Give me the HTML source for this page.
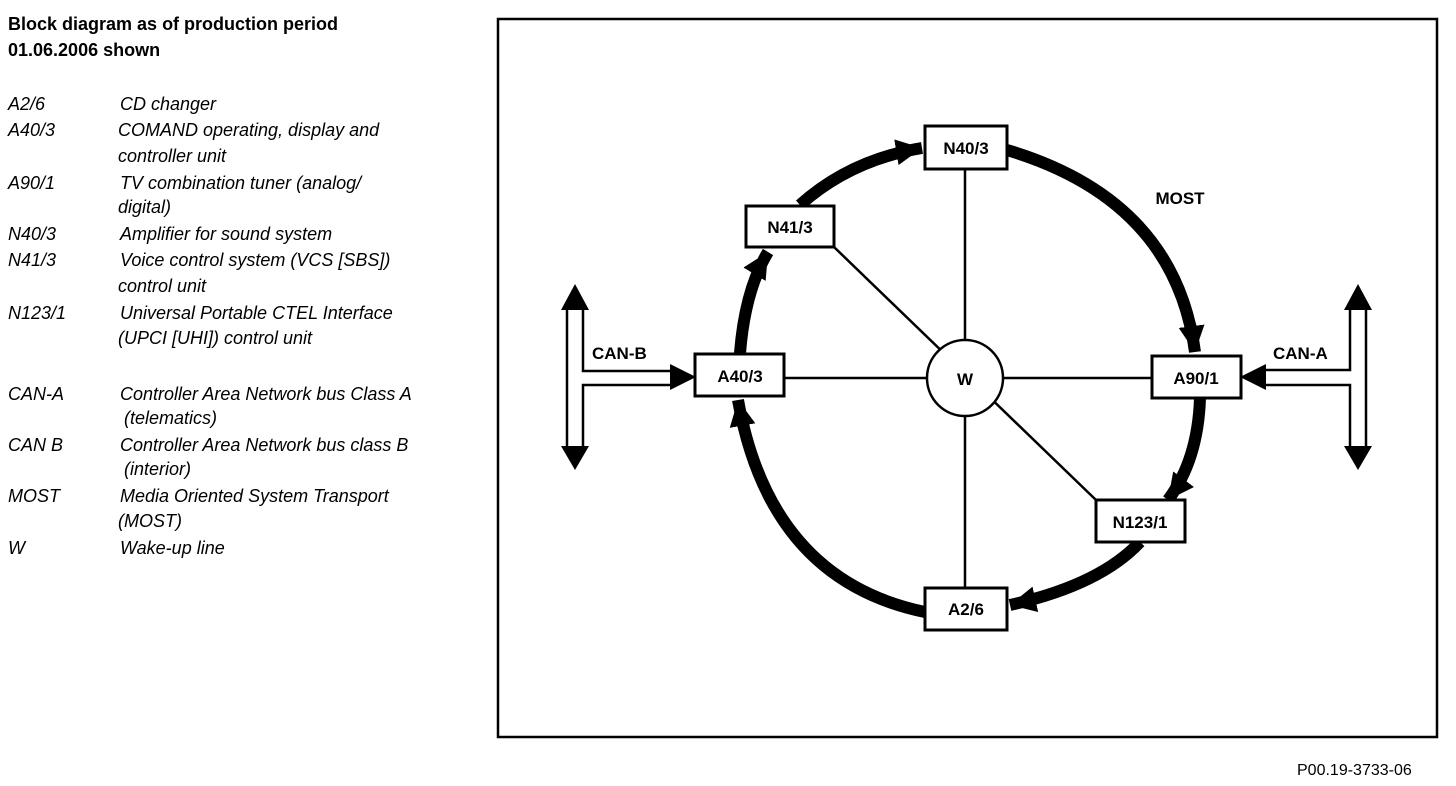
<!DOCTYPE html>
<html><head><meta charset="utf-8"><style>
html,body{margin:0;padding:0;background:#fff;}
svg{display:block;}
text{font-family:"Liberation Sans",Arial,sans-serif;fill:#000;}
.i{font-style:italic;font-size:18px;}
.b{font-weight:bold;font-size:18px;}
.n{font-weight:bold;font-size:17px;}
</style></head><body>
<svg width="1456" height="786" viewBox="0 0 1456 786" xmlns="http://www.w3.org/2000/svg">
<defs>
<marker id="ah" markerUnits="userSpaceOnUse" markerWidth="30" markerHeight="30" refX="26" refY="13" orient="auto">
<polygon points="0,0 26,13 0,26" fill="#000"/>
</marker>
</defs>
<text class="b" x="8" y="30">Block diagram as of production period</text>
<text class="b" x="8" y="56">01.06.2006 shown</text>
<g class="i">
<text class="i" x="8" y="110">A2/6</text><text class="i" x="120" y="110">CD changer</text>
<text class="i" x="8" y="136">A40/3</text><text class="i" x="118" y="136">COMAND operating, display and</text>
<text class="i" x="118" y="162">controller unit</text>
<text class="i" x="8" y="189">A90/1</text><text class="i" x="120" y="189">TV combination tuner (analog/</text>
<text class="i" x="118" y="213">digital)</text>
<text class="i" x="8" y="240">N40/3</text><text class="i" x="120" y="240">Amplifier for sound system</text>
<text class="i" x="8" y="266">N41/3</text><text class="i" x="120" y="266">Voice control system (VCS [SBS])</text>
<text class="i" x="118" y="292">control unit</text>
<text class="i" x="8" y="319">N123/1</text><text class="i" x="120" y="319">Universal Portable CTEL Interface</text>
<text class="i" x="118" y="344">(UPCI [UHI]) control unit</text>
<text class="i" x="8" y="400">CAN-A</text><text class="i" x="120" y="400">Controller Area Network bus Class A</text>
<text class="i" x="124" y="424">(telematics)</text>
<text class="i" x="8" y="451">CAN B</text><text class="i" x="120" y="451">Controller Area Network bus class B</text>
<text class="i" x="124" y="475">(interior)</text>
<text class="i" x="8" y="502">MOST</text><text class="i" x="120" y="502">Media Oriented System Transport</text>
<text class="i" x="118" y="527">(MOST)</text>
<text class="i" x="8" y="554">W</text><text class="i" x="120" y="554">Wake-up line</text>
</g>
<rect x="498" y="19" width="939" height="718" fill="none" stroke="#000" stroke-width="2.5"/>
<text x="1297" y="775" font-size="16">P00.19-3733-06</text>

<!-- wake lines -->
<g stroke="#000" stroke-width="2.5">
<line x1="965" y1="169" x2="965" y2="587"/>
<line x1="784" y1="378" x2="1152" y2="378"/>
<line x1="834" y1="247" x2="1096" y2="500"/>
</g>
<circle cx="965" cy="378" r="38" fill="#fff" stroke="#000" stroke-width="2.5"/>
<text class="n" x="965" y="385" text-anchor="middle">W</text>

<!-- MOST ring -->
<g fill="none" stroke="#000" stroke-width="12" marker-end="url(#ah)">
<path d="M740 353 Q745 290 768 252"/>
<path d="M800 205 Q850 160 922 148"/>
<path d="M1007 150 Q1175 200 1195 352"/>
<path d="M1200 398 Q1198 460 1168 500"/>
<path d="M1140 542 Q1100 585 1010 605"/>
<path d="M925 612 Q770 580 738 400"/>
</g>
<text class="n" x="1180" y="204" text-anchor="middle">MOST</text>

<!-- boxes -->
<g fill="#fff" stroke="#000" stroke-width="3">
<rect x="925" y="126" width="82" height="43"/>
<rect x="746" y="206" width="88" height="41"/>
<rect x="695" y="354" width="89" height="42"/>
<rect x="1152" y="356" width="89" height="42"/>
<rect x="1096" y="500" width="89" height="42"/>
<rect x="925" y="588" width="82" height="42"/>
</g>
<g class="n" text-anchor="middle">
<text class="n" x="966" y="154" text-anchor="middle">N40/3</text>
<text class="n" x="790" y="233" text-anchor="middle">N41/3</text>
<text class="n" x="740" y="382" text-anchor="middle">A40/3</text>
<text class="n" x="1196" y="384" text-anchor="middle">A90/1</text>
<text class="n" x="1140" y="528" text-anchor="middle">N123/1</text>
<text class="n" x="966" y="615" text-anchor="middle">A2/6</text>
</g>

<!-- CAN-B -->
<g fill="#000">
<polygon points="575,284 561,310 589,310"/>
<polygon points="575,470 561,446 589,446"/>
<polygon points="696,377 670,364 670,390"/>
<polygon points="1240,377 1266,364 1266,390"/>
<polygon points="1358,284 1344,310 1372,310"/>
<polygon points="1358,470 1344,446 1372,446"/>
</g>
<g fill="none" stroke="#000" stroke-width="2.5">
<polyline points="567,310 567,446"/>
<polyline points="583,310 583,371 670,371"/>
<polyline points="583,446 583,385 670,385"/>
<polyline points="1366,310 1366,446"/>
<polyline points="1350,310 1350,370 1266,370"/>
<polyline points="1350,446 1350,385 1266,385"/>
</g>
<text class="n" x="592" y="359">CAN-B</text>
<text class="n" x="1273" y="359">CAN-A</text>
</svg>
</body></html>
